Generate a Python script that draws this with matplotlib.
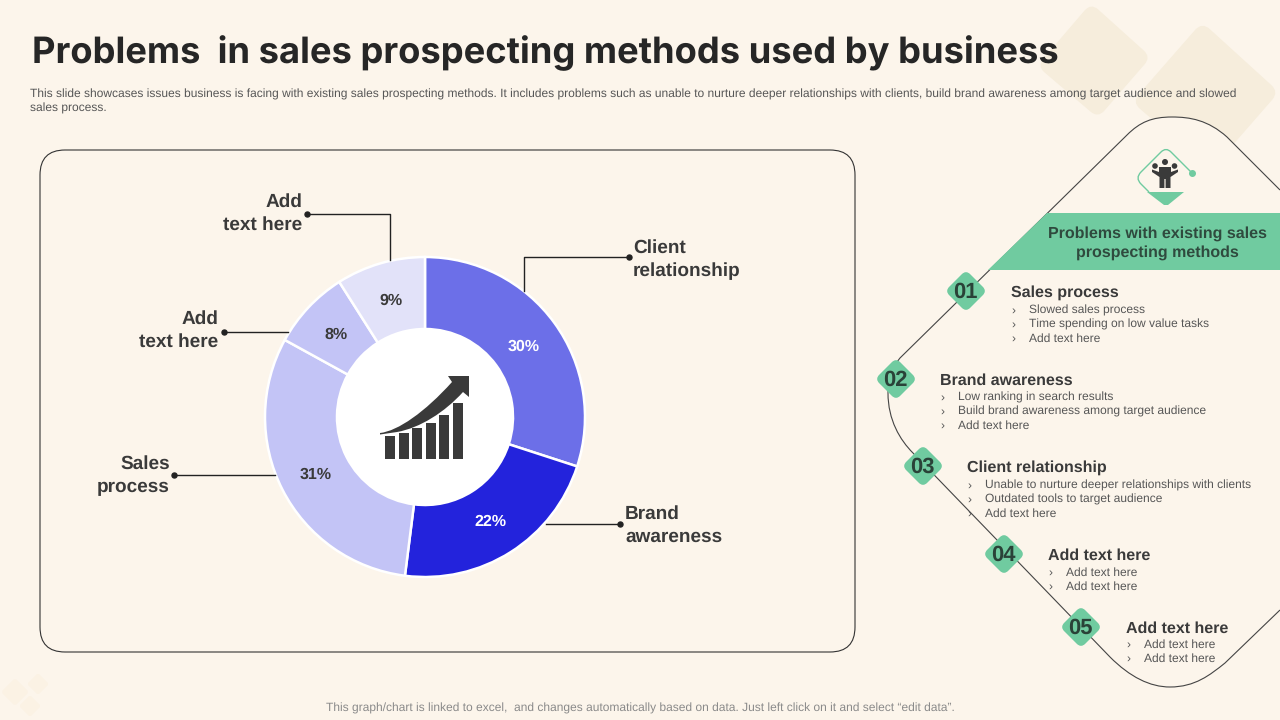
import matplotlib
matplotlib.use("Agg")
import matplotlib.pyplot as plt
from matplotlib.patches import PathPatch, Polygon, Rectangle, Circle, FancyBboxPatch
from matplotlib.path import Path

plt.rcParams["text.hinting"] = "none"
plt.rcParams["text.hinting_factor"] = 1

BG = "#FCF5EB"
DARK = "#3A3A3A"
GREY = "#565656"
GREEN = "#70CBA0"
TAN = "#F6EDDC"
SANS = "Liberation Sans"

title = "Problems  in sales prospecting methods used by business"
subtitle = ["This slide showcases issues business is facing with existing sales prospecting methods. It includes problems such as unable to nurture deeper relationships with clients, build brand awareness among target audience and slowed",
            "sales process."]
footer = "This graph/chart is linked to excel,  and changes automatically based on data. Just left click on it and select \u201cedit data\u201d."

segments = ["Client relationship", "Brand awareness", "Sales process", "Add text here (a)", "Add text here (b)"]
shares = [30, 22, 31, 8, 9]
seg_colors = ["#6C6FE8", "#2323DC", "#C3C4F6", "#C3C4F6", "#E2E2F9"]
pct_colors = ["white", "white", DARK, DARK, DARK]

callouts = [
    (["Client", "relationship"], 633, 253, "left", [(629, 257), (524, 257), (524, 291)]),
    (["Brand", "awareness"], 625, 519, "left", [(620, 524), (546, 524)]),
    (["Sales", "process"], 170, 469, "right", [(174, 475), (275, 475)]),
    (["Add", "text here"], 218, 324, "right", [(224, 332), (288, 332)]),
    (["Add", "text here"], 302, 207, "right", [(307, 214), (390, 214), (390, 260)]),
]

steps = [
    ("01", 966, 291, "Sales process", 1011, 314, ["Slowed sales process", "Time spending on low value tasks", "Add text here"]),
    ("02", 896, 379, "Brand awareness", 940, 401, ["Low ranking in search results", "Build brand awareness among target audience", "Add text here"]),
    ("03", 923, 466, "Client relationship", 967, 489, ["Unable to nurture deeper relationships with clients", "Outdated tools to target audience", "Add text here"]),
    ("04", 1004, 554, "Add text here", 1048, 576, ["Add text here", "Add text here"]),
    ("05", 1081, 627, "Add text here", 1126, 648, ["Add text here", "Add text here"]),
]

bar_tops = [436, 433, 428, 423, 415, 403]

fig = plt.figure(figsize=(12.8, 7.2), dpi=100, facecolor=BG)


def px_axes(z):
    a = fig.add_axes([0, 0, 1, 1], zorder=z)
    a.set_xlim(0, 1280)
    a.set_ylim(720, 0)
    a.axis("off")
    a.patch.set_alpha(0)
    return a


def rquad(pts, k=0.2):
    verts, codes = [], []
    for i, p in enumerate(pts):
        prev = pts[i - 1]
        nxt = pts[(i + 1) % 4]
        a = (p[0] + (prev[0] - p[0]) * k, p[1] + (prev[1] - p[1]) * k)
        b = (p[0] + (nxt[0] - p[0]) * k, p[1] + (nxt[1] - p[1]) * k)
        verts += [a, p, b]
        codes += [Path.MOVETO if i == 0 else Path.LINETO, Path.CURVE3, Path.CURVE3]
    verts.append(verts[0])
    codes.append(Path.CLOSEPOLY)
    return Path(verts, codes)


def rdiamond(cx, cy, r, k=0.2):
    return rquad([(cx, cy - r), (cx + r, cy), (cx, cy + r), (cx - r, cy)], k)


base = px_axes(0)
base.add_patch(PathPatch(rquad([(1091, 3), (1151, 57), (1098, 118), (1037, 66)], 0.12), fc=TAN, ec="none", zorder=1))
base.add_patch(PathPatch(rquad([(1202, 22), (1279, 92), (1211, 170), (1132, 102)], 0.1), fc=TAN, ec="none", zorder=1))
for cx, cy, r in [(15, 692, 14), (38, 684, 11), (30, 706, 11)]:
    base.add_patch(PathPatch(rdiamond(cx, cy, r, 0.15), fc="#FBF2E4", ec="none", zorder=1))

base.add_patch(FancyBboxPatch((65, 175), 765, 452, boxstyle="round,pad=25,rounding_size=25",
                              fc="none", ec="#333333", lw=0.8, zorder=2))

base.text(32, 63, title, family="Inter", weight="bold", fontsize=26.15, color="#262626", va="baseline", ha="left")
for i, line in enumerate(subtitle):
    base.text(30, 98 + i * 14, line, family=SANS, fontsize=8.67, color=GREY, va="baseline", ha="left")
base.text(640, 712, footer, family=SANS, fontsize=8.58, color="#8A8A8A", va="baseline", ha="center")

M, L, C = Path.MOVETO, Path.LINETO, Path.CURVE4
ring_open = [
    ((1280, 190), M), ((1227, 137), L),
    ((1208, 120), C), ((1190, 117), C), ((1172, 117), C),
    ((1152, 117), C), ((1140, 122), C), ((1127, 135), C),
    ((900, 358), L),
    ((892, 368), C), ((888, 378), C), ((888, 393), C),
    ((888, 420), C), ((900, 440), C), ((913, 453), C),
    ((1110, 657), L),
    ((1130, 677), C), ((1150, 687), C), ((1170, 687), C),
    ((1195, 687), C), ((1210, 675), C), ((1225, 663), C),
    ((1280, 610), L),
]
rv = [p for p, _ in ring_open]
rc = [c for _, c in ring_open]
base.add_patch(PathPatch(Path(rv + [(1280, 190)], rc + [L]), fc=BG, ec="none", zorder=1.5))
base.add_patch(PathPatch(Path(rv, rc), fc="none", ec="#444444", lw=0.8, zorder=2))

pie_ax = fig.add_axes([(425 - 160) / 1280, (720 - 417 - 160) / 720, 320 / 1280, 320 / 720], zorder=1)
wedges, _, autotexts = pie_ax.pie(
    shares, colors=seg_colors, startangle=90, counterclock=False, radius=1,
    wedgeprops=dict(width=1 - 88 / 160, edgecolor="white", linewidth=1.8),
    autopct="%d%%", pctdistance=0.765,
    textprops=dict(family=SANS, weight="bold", fontsize=11.5))
for t, c in zip(autotexts, pct_colors):
    t.set_color(c)
    t.set_va("center_baseline")
pie_ax.add_patch(Circle((0, 0), 88 / 160, fc="white", ec="none", zorder=5))
pie_ax.set_xlim(-1, 1)
pie_ax.set_ylim(-1, 1)

top = px_axes(2)
for lines, x, y, ha, pts in callouts:
    xs = [p[0] for p in pts]
    ys = [p[1] for p in pts]
    top.plot(xs, ys, color="#222222", lw=1)
    top.plot(xs[:1], ys[:1], "o", color="#222222", ms=3.6)
    for i, line in enumerate(lines):
        top.text(x, y + i * 23, line, family=SANS, weight="bold", fontsize=14, color=DARK, va="baseline", ha=ha)

# centre chart icon
for i, t in enumerate(bar_tops):
    x = 385 + i * 13.6
    top.add_patch(Rectangle((x, t), 10, 459 - t, fc=DARK, ec="none"))
arrow = Path(
    [(380, 433), (398, 431), (425, 412), (452, 382), (448, 376), (469, 376), (469, 397), (463, 392),
     (445, 412), (420, 428), (397, 432), (380, 434.5), (380, 433)],
    [M, C, C, C, L, L, L, L, C, C, C, L, Path.CLOSEPOLY])
top.add_patch(PathPatch(arrow, fc=DARK, ec="none"))

# banner
top.add_patch(Polygon([(988, 270), (1047, 213), (1280, 213), (1280, 270)], fc=GREEN, ec="none"))
top.text(1157, 238, "Problems with existing sales", family=SANS, weight="bold", fontsize=11.6, color="#2F4A3E", ha="center", va="baseline")
top.text(1157, 257, "prospecting methods", family=SANS, weight="bold", fontsize=11.6, color="#2F4A3E", ha="center", va="baseline")

# person icon
Q = Path.CURVE3
outline = Path([(1192, 173), (1171, 152), (1166, 147), (1161, 152), (1141, 172), (1135, 178), (1141, 184), (1149, 192)],
               [M, L, Q, Q, L, Q, Q, L])
top.add_patch(PathPatch(outline, fc="none", ec=GREEN, lw=1))
top.plot([1192], [173], "o", color=GREEN, ms=4)
top.add_patch(Polygon([(1147, 192), (1184, 192), (1168, 205), (1164, 205)], fc=GREEN, ec="none"))
top.add_patch(Circle((1165, 162), 3, fc=DARK, ec="none"))
top.add_patch(Polygon([(1159, 167), (1171, 167), (1171, 172), (1178, 169.5), (1178, 172), (1170.5, 177), (1170.5, 188),
                      (1165.6, 188), (1165.6, 179), (1164.4, 179), (1164.4, 188), (1159.5, 188), (1159.5, 177),
                      (1152, 172), (1152, 169.5), (1159, 172)], fc=DARK, ec="none"))
top.add_patch(Circle((1155, 166), 2.8, fc=DARK, ec="none"))
top.add_patch(Circle((1174.5, 166), 2.8, fc=DARK, ec="none"))

# steps
for num, cx, cy, head, tx, item_y, items in steps:
    top.add_patch(PathPatch(rdiamond(cx, cy, 21, 0.2), fc=GREEN, ec="none"))
    top.text(cx - 0.5, cy + 7, num, family=SANS, weight="bold", fontsize=15.5, color="#2A4238", ha="center", va="baseline")
    top.text(tx, cy + 6, head, family=SANS, weight="bold", fontsize=11.4, color=DARK, ha="left", va="baseline")
    for j, item in enumerate(items):
        y = item_y + j * 14
        top.text(tx + 0.5, y, "\u203a", family=SANS, fontsize=8.6, color=GREY, ha="left", va="baseline")
        top.text(tx + 18, y, item, family=SANS, fontsize=8.67, color=GREY, ha="left", va="baseline")

fig.savefig("out.png", dpi=100, facecolor=BG)
